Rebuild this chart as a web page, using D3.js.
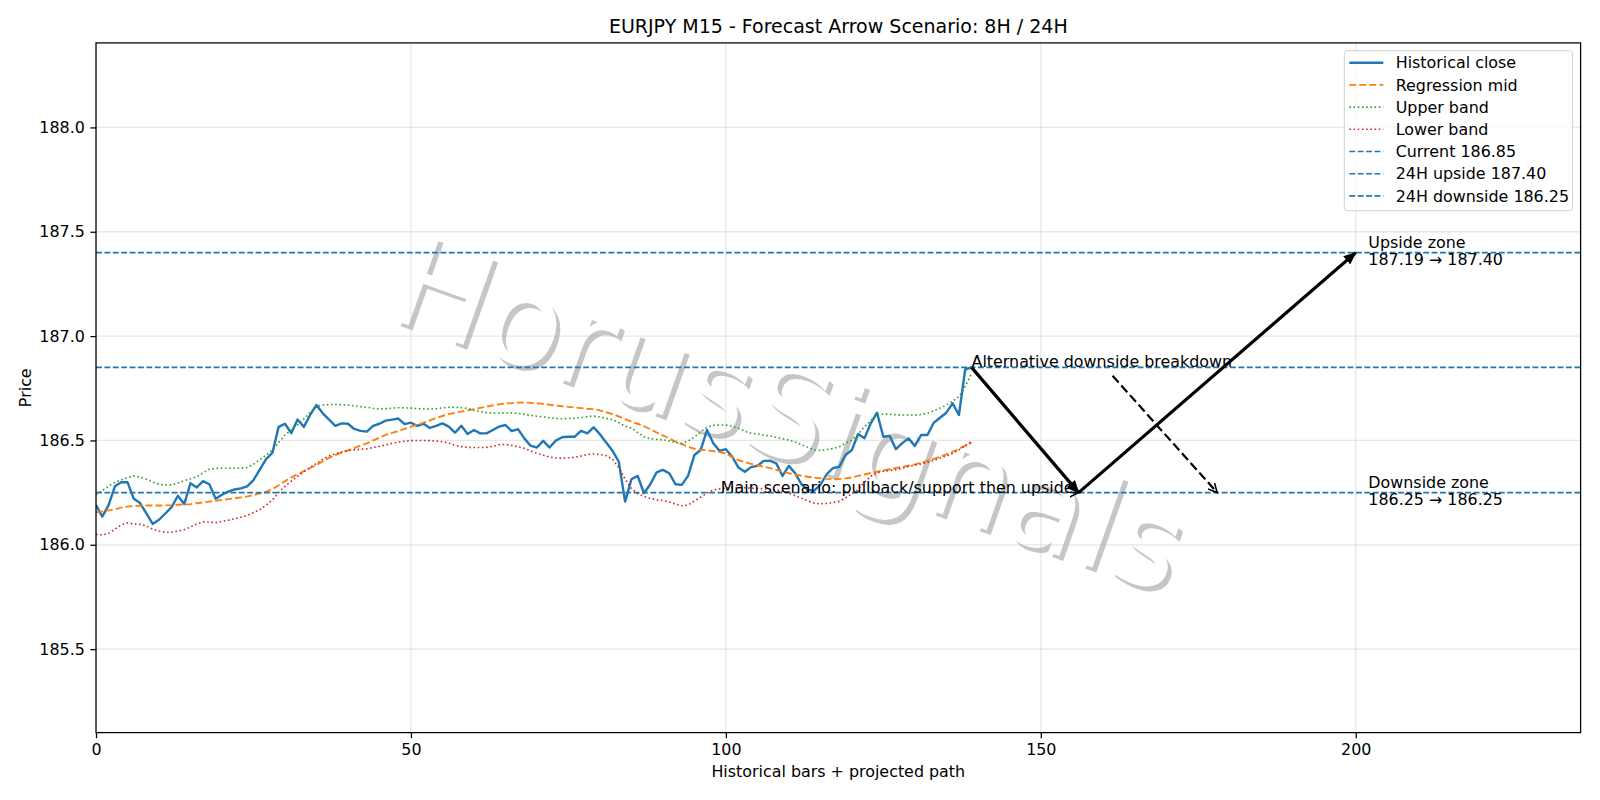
<!DOCTYPE html>
<html>
<head>
<meta charset="utf-8">
<script src="https://cdn.jsdelivr.net/npm/d3@7"></script>
<style>
  body { margin: 0; background: #fff; }
  svg text { font-family: "DejaVu Sans", sans-serif; }
</style>
</head>
<body>
<svg id="chart"></svg>
<script>
// bar index 0..139 for every historical series
var closes = [
  186.19, 186.135, 186.19, 186.28, 186.30, 186.30, 186.22, 186.20, 186.15, 186.10,
  186.12, 186.15, 186.18, 186.235, 186.195, 186.295, 186.275, 186.305, 186.29, 186.22,
  186.24, 186.255, 186.265, 186.27, 186.28, 186.31, 186.36, 186.41, 186.44, 186.565,
  186.58, 186.535, 186.60, 186.565, 186.622, 186.67, 186.63, 186.60, 186.57, 186.582,
  186.58, 186.555, 186.546, 186.542, 186.57, 186.58, 186.595, 186.60, 186.605, 186.578,
  186.585, 186.57, 186.58, 186.56, 186.57, 186.582, 186.566, 186.537, 186.57, 186.531,
  186.55, 186.534, 186.534, 186.55, 186.566, 186.574, 186.545, 186.554, 186.51, 186.475,
  186.466, 186.498, 186.466, 186.499, 186.515, 186.518, 186.518, 186.546, 186.534, 186.563,
  186.53, 186.49, 186.451, 186.398, 186.207, 186.314, 186.33, 186.247, 186.29, 186.347,
  186.359, 186.343, 186.29, 186.287, 186.33, 186.43, 186.454, 186.55, 186.487, 186.45,
  186.458, 186.422, 186.37, 186.35, 186.372, 186.378, 186.402, 186.403, 186.39, 186.33,
  186.378, 186.343, 186.29, 186.263, 186.259, 186.287, 186.338, 186.367, 186.374, 186.43,
  186.454, 186.531, 186.51, 186.582, 186.633, 186.518, 186.522, 186.458, 186.487, 186.51,
  186.474, 186.526, 186.526, 186.585, 186.609, 186.633, 186.678, 186.622, 186.84, 186.85
];

var regMid = [
  186.156, 186.16, 186.165, 186.17, 186.178, 186.183, 186.186, 186.187, 186.188, 186.188,
  186.188, 186.189, 186.19, 186.192, 186.193, 186.195, 186.199, 186.203, 186.207, 186.211,
  186.215, 186.219, 186.223, 186.227, 186.232, 186.238, 186.246, 186.255, 186.266, 186.285,
  186.305, 186.322, 186.338, 186.353, 186.368, 186.383, 186.40, 186.416, 186.43, 186.442,
  186.452, 186.463, 186.475, 186.486, 186.50, 186.513, 186.527, 186.536, 186.545, 186.555,
  186.566, 186.575, 186.585, 186.596, 186.607, 186.617, 186.626, 186.632, 186.638, 186.644,
  186.65, 186.656, 186.662, 186.668, 186.673, 186.677, 186.679, 186.681, 186.682, 186.68,
  186.678, 186.675, 186.671, 186.667, 186.664, 186.661, 186.658, 186.655, 186.652, 186.65,
  186.644, 186.635, 186.626, 186.615, 186.602, 186.59, 186.58, 186.568, 186.554, 186.538,
  186.524, 186.51, 186.495, 186.482, 186.47, 186.46, 186.456, 186.453, 186.449, 186.444,
  186.438, 186.42, 186.405, 186.396, 186.388, 186.381, 186.374, 186.367, 186.359, 186.351,
  186.343, 186.337, 186.331, 186.326, 186.322, 186.319, 186.316, 186.314, 186.315, 186.318,
  186.323, 186.33, 186.337, 186.344, 186.35, 186.356, 186.362, 186.368, 186.373, 186.379,
  186.385, 186.393, 186.402, 186.412, 186.422, 186.433, 186.445, 186.46, 186.475, 186.49
];

var upperBand = [
  186.24, 186.26, 186.28, 186.30, 186.312, 186.322, 186.33, 186.324, 186.314, 186.30,
  186.29, 186.287, 186.287, 186.296, 186.307, 186.316, 186.326, 186.345, 186.362, 186.366,
  186.367, 186.367, 186.367, 186.368, 186.37, 186.385, 186.407, 186.43, 186.454, 186.49,
  186.526, 186.55, 186.574, 186.603, 186.633, 186.665, 186.67, 186.672, 186.673, 186.671,
  186.67, 186.666, 186.662, 186.659, 186.654, 186.651, 186.652, 186.655, 186.657, 186.656,
  186.655, 186.653, 186.651, 186.65, 186.652, 186.656, 186.659, 186.659, 186.657, 186.653,
  186.645, 186.638, 186.633, 186.631, 186.63, 186.631, 186.632, 186.63, 186.625, 186.62,
  186.616, 186.613, 186.609, 186.605, 186.604, 186.605, 186.606, 186.61, 186.614, 186.617,
  186.612, 186.606, 186.60, 186.585, 186.568, 186.56, 186.538, 186.518, 186.508, 186.505,
  186.503, 186.498, 186.49, 186.486, 186.497, 186.516, 186.54, 186.564, 186.572, 186.574,
  186.574, 186.567, 186.558, 186.545, 186.535, 186.53, 186.525, 186.522, 186.515, 186.508,
  186.502, 186.492, 186.48, 186.468, 186.455, 186.452, 186.456, 186.461, 186.47, 186.486,
  186.502, 186.53, 186.565, 186.595, 186.622, 186.627, 186.625, 186.623, 186.622, 186.622,
  186.622, 186.624, 186.63, 186.642, 186.655, 186.67, 186.688, 186.71, 186.76, 186.82
];

var lowerBand = [
  186.05, 186.047, 186.055, 186.075, 186.095, 186.105, 186.10, 186.098, 186.09, 186.075,
  186.066, 186.06, 186.06, 186.066, 186.072, 186.085, 186.10, 186.11, 186.109, 186.106,
  186.112, 186.118, 186.125, 186.132, 186.14, 186.155, 186.168, 186.19, 186.215, 186.25,
  186.28, 186.305, 186.328, 186.35, 186.37, 186.39, 186.41, 186.425, 186.436, 186.445,
  186.452, 186.455, 186.458, 186.46, 186.466, 186.472, 186.478, 186.486, 186.492, 186.496,
  186.499, 186.50, 186.50, 186.499, 186.497, 186.494, 186.488, 186.476, 186.47, 186.467,
  186.466, 186.466, 186.467, 186.472, 186.479, 186.481, 186.476, 186.47, 186.462, 186.45,
  186.438, 186.43, 186.42, 186.416, 186.415, 186.417, 186.419, 186.425, 186.433, 186.435,
  186.432, 186.427, 186.41, 186.37, 186.315, 186.27, 186.245, 186.232, 186.222, 186.215,
  186.212, 186.205, 186.195, 186.187, 186.19, 186.21, 186.228, 186.248, 186.262, 186.268,
  186.272, 186.274, 186.274, 186.273, 186.272, 186.27, 186.268, 186.265, 186.262, 186.257,
  186.248, 186.235, 186.223, 186.21, 186.20, 186.196, 186.198, 186.203, 186.208, 186.225,
  186.245, 186.265, 186.30, 186.328, 186.345, 186.352, 186.356, 186.36, 186.367, 186.375,
  186.382, 186.388, 186.394, 186.405, 186.415, 186.425, 186.438, 186.455, 186.475, 186.495
];

var levelNames = ["Current 186.85", "24H upside 187.40", "24H downside 186.25"];
var levelValues = [186.85, 187.40, 186.25];

// projected path: pullback then rally
var mainPathX = [139, 156, 200];
var mainPathY = [186.85, 186.25, 187.40];
var altPathX = [161.4, 178];
var altPathY = [186.81, 186.25];

var zoneTitles = ["Upside zone", "Downside zone"];
var zoneRanges = ["187.19 \u2192 187.40", "186.25 \u2192 186.25"];
var zoneValues = [187.40, 186.25];
var zoneX = 202;

var mainLabel = "Main scenario: pullback/support then upside";
var mainLabelX = 99.2;
var altLabel = "Alternative downside breakdown";

var xTicks = [0, 50, 100, 150, 200];
var yTicks = [185.5, 186.0, 186.5, 187.0, 187.5, 188.0];

var width = 1600, height = 800;
var pLeft = 96, pRight = 1580.6, pTop = 42.9, pBottom = 732.6;
var fs = 15.9;

var svg = d3.select("#chart").attr("width", width).attr("height", height);
svg.append("rect").attr("width", width).attr("height", height).attr("fill", "#fff");

var xScale = d3.scaleLinear().domain([0, 235.7]).range([pLeft, pRight]);
var yScale = d3.scaleLinear().domain([185.10, 188.405]).range([pBottom, pTop]);

var defs = svg.append("defs");
defs.append("clipPath").attr("id", "plot-clip")
  .append("rect").attr("x", pLeft).attr("y", pTop)
  .attr("width", pRight - pLeft).attr("height", pBottom - pTop);

var plot = svg.append("g").attr("clip-path", "url(#plot-clip)");

// watermark with a soft offset shadow
var wm = plot.append("g");
wm.append("text")
  .attr("transform", "translate(389,322) rotate(19.5)")
  .attr("font-size", 127).attr("fill", "#c6c6c6")
  .text("HorusSignals");
wm.append("text")
  .attr("transform", "translate(385,317) rotate(19.5)")
  .attr("font-size", 127).attr("fill", "#fff")
  .text("HorusSignals");

// grid
plot.selectAll(".xgrid").data(xTicks).enter().append("line")
  .attr("x1", d => xScale(d)).attr("x2", d => xScale(d))
  .attr("y1", pTop).attr("y2", pBottom)
  .attr("stroke", "#b0b0b0").attr("stroke-opacity", 0.3).attr("stroke-width", 1.27);
plot.selectAll(".ygrid").data(yTicks).enter().append("line")
  .attr("y1", d => yScale(d)).attr("y2", d => yScale(d))
  .attr("x1", pLeft).attr("x2", pRight)
  .attr("stroke", "#b0b0b0").attr("stroke-opacity", 0.3).attr("stroke-width", 1.27);

var line = d3.line().x((d, i) => xScale(i)).y(d => yScale(d));

plot.append("path").attr("d", line(closes))
  .attr("fill", "none").attr("stroke", "#1f77b4").attr("stroke-width", 2.4)
  .attr("stroke-linejoin", "round");
plot.append("path").attr("d", line(regMid))
  .attr("fill", "none").attr("stroke", "#ff7f0e").attr("stroke-width", 1.9)
  .attr("stroke-dasharray", "7,3");
plot.append("path").attr("d", line(upperBand))
  .attr("fill", "none").attr("stroke", "#2ca02c").attr("stroke-width", 1.6)
  .attr("stroke-dasharray", "1.6,2.6");
plot.append("path").attr("d", line(lowerBand))
  .attr("fill", "none").attr("stroke", "#d62728").attr("stroke-width", 1.6)
  .attr("stroke-dasharray", "1.6,2.6");

plot.selectAll(".level").data(levelValues).enter().append("line")
  .attr("x1", pLeft).attr("x2", pRight)
  .attr("y1", d => yScale(d)).attr("y2", d => yScale(d))
  .attr("stroke", "#1f77b4").attr("stroke-width", 1.6)
  .attr("stroke-dasharray", "5.9,2.5");

// arrow markers
defs.append("marker").attr("id", "head-fill")
  .attr("viewBox", "0 0 12 10").attr("refX", 11).attr("refY", 5)
  .attr("markerUnits", "userSpaceOnUse")
  .attr("markerWidth", 13).attr("markerHeight", 11).attr("orient", "auto")
  .append("path").attr("d", "M0,0 L12,5 L0,10 Z").attr("fill", "#000");
defs.append("marker").attr("id", "head-open")
  .attr("viewBox", "0 0 10 10").attr("refX", 9).attr("refY", 5)
  .attr("markerUnits", "userSpaceOnUse")
  .attr("markerWidth", 10).attr("markerHeight", 10).attr("orient", "auto")
  .append("path").attr("d", "M0,0.5 L9,5 L0,9.5").attr("fill", "none")
  .attr("stroke", "#000").attr("stroke-width", 1.6);

var arrows = plot.append("g");
for (var k = 0; k < mainPathX.length - 1; k++) {
  arrows.append("line")
    .attr("x1", xScale(mainPathX[k])).attr("y1", yScale(mainPathY[k]))
    .attr("x2", xScale(mainPathX[k + 1])).attr("y2", yScale(mainPathY[k + 1]))
    .attr("stroke", "#000").attr("stroke-width", 3.2)
    .attr("marker-end", "url(#head-fill)");
}
arrows.append("line")
  .attr("x1", xScale(altPathX[0])).attr("y1", yScale(altPathY[0]))
  .attr("x2", xScale(altPathX[1])).attr("y2", yScale(altPathY[1]))
  .attr("stroke", "#000").attr("stroke-width", 2.2)
  .attr("stroke-dasharray", "9,4")
  .attr("marker-end", "url(#head-open)");
// short pointer after the main scenario text
arrows.append("line")
  .attr("x1", xScale(mainPathX[1]) - 6).attr("y1", yScale(mainPathY[1]))
  .attr("x2", xScale(mainPathX[1])).attr("y2", yScale(mainPathY[1]))
  .attr("stroke", "#000").attr("stroke-width", 1.6)
  .attr("marker-end", "url(#head-open)");

// annotations
svg.append("text").attr("x", xScale(mainLabelX)).attr("y", yScale(mainPathY[1]))
  .attr("font-size", fs).text(mainLabel);
svg.append("text").attr("x", xScale(mainPathX[0])).attr("y", yScale(mainPathY[0]))
  .attr("font-size", fs).text(altLabel);

zoneTitles.forEach(function(t, i) {
  var cy = yScale(zoneValues[i]);
  var g = svg.append("text").attr("font-size", fs);
  g.append("tspan").attr("x", xScale(zoneX)).attr("y", cy - 4.5).text(t);
  g.append("tspan").attr("x", xScale(zoneX)).attr("y", cy + 12.8).text(zoneRanges[i]);
});

// axes
var xAxis = d3.axisBottom(xScale).tickValues(xTicks).tickSize(5.6).tickPadding(5.6);
var yAxis = d3.axisLeft(yScale).tickValues(yTicks).tickSize(5.6).tickPadding(5.6)
  .tickFormat(d3.format(".1f"));

var gx = svg.append("g").attr("transform", "translate(0," + pBottom + ")").call(xAxis);
var gy = svg.append("g").attr("transform", "translate(" + pLeft + ",0)").call(yAxis);
[gx, gy].forEach(function(g) {
  g.select(".domain").remove();
  g.selectAll("line").attr("stroke", "#000").attr("stroke-width", 1.27);
  g.selectAll("text").attr("font-size", fs).attr("fill", "#000")
    .attr("font-family", "DejaVu Sans");
});

svg.append("rect").attr("x", pLeft).attr("y", pTop)
  .attr("width", pRight - pLeft).attr("height", pBottom - pTop)
  .attr("fill", "none").attr("stroke", "#000").attr("stroke-width", 1.27);

svg.append("text").attr("x", (pLeft + pRight) / 2).attr("y", 33)
  .attr("text-anchor", "middle").attr("font-size", 19)
  .text("EURJPY M15 - Forecast Arrow Scenario: 8H / 24H");
svg.append("text").attr("x", (pLeft + pRight) / 2).attr("y", 777)
  .attr("text-anchor", "middle").attr("font-size", fs)
  .text("Historical bars + projected path");
svg.append("text")
  .attr("transform", "translate(31," + ((pTop + pBottom) / 2) + ") rotate(-90)")
  .attr("text-anchor", "middle").attr("font-size", fs)
  .text("Price");

// legend
var legendItems = [
  {name: "Historical close", color: "#1f77b4", w: 2.4, dash: null},
  {name: "Regression mid", color: "#ff7f0e", w: 1.9, dash: "7,3"},
  {name: "Upper band", color: "#2ca02c", w: 1.6, dash: "1.6,2.6"},
  {name: "Lower band", color: "#d62728", w: 1.6, dash: "1.6,2.6"}
].concat(levelNames.map(function(n) {
  return {name: n, color: "#1f77b4", w: 1.6, dash: "5.9,2.5"};
}));

var lg = svg.append("g");
lg.append("rect").attr("x", 1344.3).attr("y", 50.7)
  .attr("width", 228.3).attr("height", 160)
  .attr("rx", 3).attr("fill", "#fff").attr("fill-opacity", 0.8)
  .attr("stroke", "#d0d0d0").attr("stroke-width", 1);
legendItems.forEach(function(it, i) {
  var cy = 62.7 + i * 22.2;
  lg.append("line").attr("x1", 1349.3).attr("x2", 1383.3)
    .attr("y1", cy).attr("y2", cy)
    .attr("stroke", it.color).attr("stroke-width", it.w)
    .attr("stroke-dasharray", it.dash);
  lg.append("text").attr("x", 1395.7).attr("y", cy + 5.6)
    .attr("font-size", fs).text(it.name);
});
</script>
</body>
</html>
